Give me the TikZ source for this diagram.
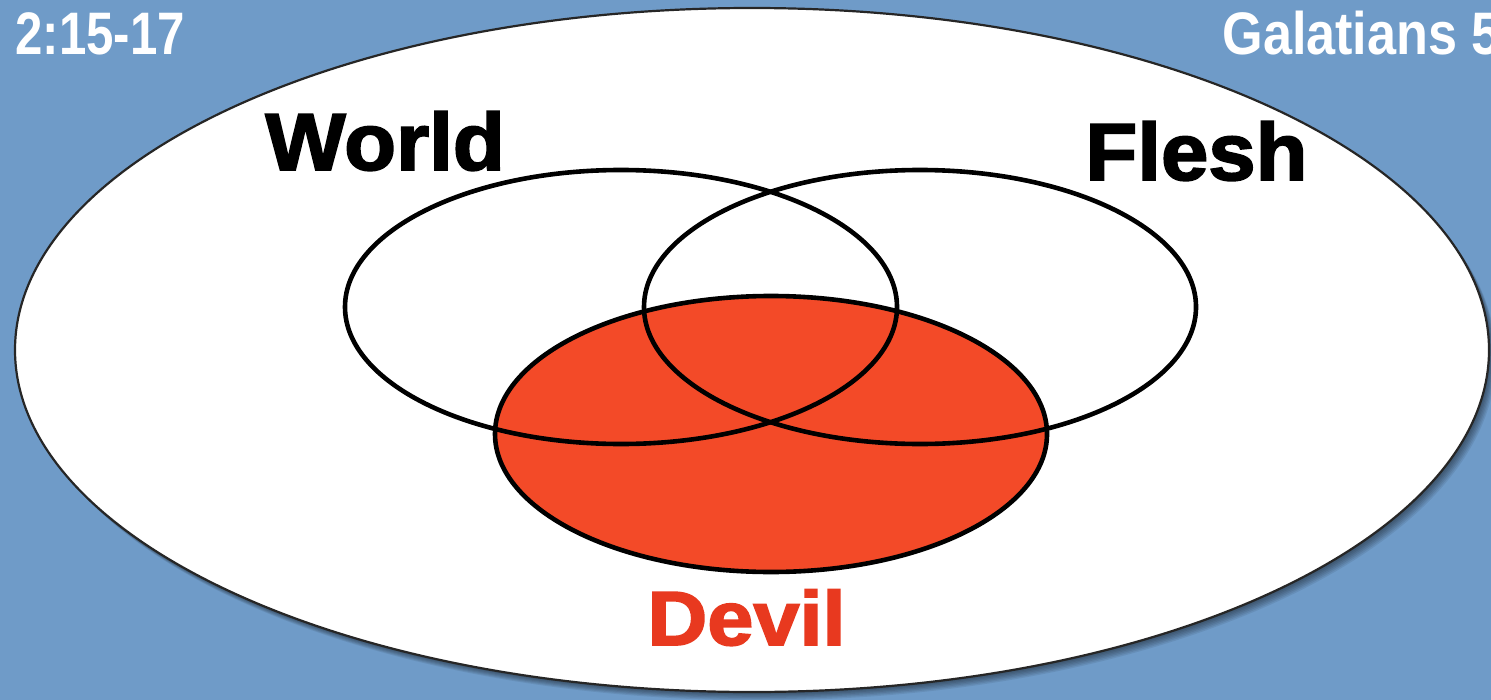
\documentclass[tikz,border=0pt]{standalone}
\usepackage{fontspec}
\setmainfont{Liberation Sans}
\newfontfamily\heavy{Liberation Sans}[UprightFont={* Bold},UprightFeatures={FakeBold=2.2}]
\newfontfamily\hdr{Liberation Sans}[UprightFont={* Bold}]
\definecolor{bg}{RGB}{111,155,200}
\definecolor{devilfill}{RGB}{243,74,40}
\definecolor{deviltext}{RGB}{232,57,31}
\tikzset{
  vennline/.style={draw=black, line width=2.3pt},
  biglabel/.style={font=\heavy\fontsize{40.5}{44}\selectfont, inner sep=0pt, anchor=base west},
  hdrlabel/.style={font=\hdr\fontsize{30}{34}\selectfont, text=white, inner sep=0pt, anchor=base west}
}
\begin{document}
\begin{tikzpicture}[x=0.5pt,y=-0.5pt]
\useasboundingbox (0,0) rectangle (1491,700);
\clip (0,0) rectangle (1491,700);
\fill[bg] (0,0) rectangle (1491,700);
% header texts
\node[hdrlabel] (ref1) at (15,55) {\scalebox{0.82}[1]{2:15-17}};
\node[hdrlabel] (ref2) at (1222,55) {\scalebox{0.87}[1]{Galatians 5:}};
% shadow of the big ellipse
\foreach \i in {1,...,7}{
  \fill[black, opacity=0.08] (752+1.0*\i,350+1.2*\i) ellipse [x radius=737, y radius=342];
}
% big ellipse
\draw[fill=white, draw=black!85, line width=1.1pt] (752,350) ellipse [x radius=737, y radius=342];
% Devil (filled) then World and Flesh outlines on top
\draw[vennline, fill=devilfill] (771,434) ellipse [x radius=276, y radius=138];
\draw[vennline] (621,307) ellipse [x radius=276, y radius=137];
\draw[vennline] (920,307) ellipse [x radius=276, y radius=137];
% labels
\node[biglabel] (world) at (265,170) {\scalebox{1.05}[1]{World}};
\node[biglabel] (flesh) at (1085,180) {\scalebox{1.05}[1]{Flesh}};
\node[biglabel, text=deviltext, font=\heavy\fontsize{38.4}{42}\selectfont] (devil) at (647,645) {\scalebox{1.08}[1]{Devil}};
\end{tikzpicture}
\end{document}
